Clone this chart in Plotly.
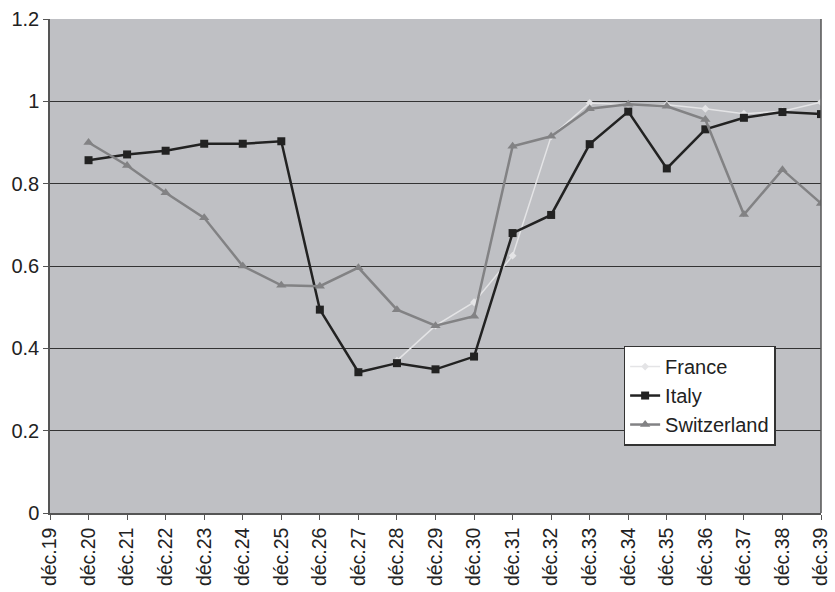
import plotly.graph_objects as go

# Category labels along the horizontal axis (one per December)
months = ["déc.%d" % y for y in range(19, 40)]
series_months = months[1:]  # observations start at déc.20

france = [None, None, None, None, None, None, None, None,
          0.37, 0.455, 0.512, 0.625, 0.915, 0.996, 0.992, 0.992,
          0.982, 0.970, 0.976, 0.998]
italy = [0.857, 0.871, 0.880, 0.897, 0.897, 0.903, 0.494, 0.342,
         0.364, 0.349, 0.380, 0.680, 0.724, 0.896, 0.975, 0.837,
         0.932, 0.960, 0.974, 0.969]
switzerland = [0.900, 0.844, 0.778, 0.717, 0.600, 0.553, 0.551, 0.596,
               0.494, 0.455, 0.478, 0.891, 0.915, 0.982, 0.993, 0.988,
               0.956, 0.725, 0.834, 0.752]

y_ticks = [0, 0.2, 0.4, 0.6, 0.8, 1, 1.2]
y_tick_text = ["0", "0.2", "0.4", "0.6", "0.8", "1", "1.2"]

fig = go.Figure()
fig.add_trace(go.Scatter(
    x=series_months, y=france, name="France", mode="lines+markers",
    line=dict(color="#e4e4e6", width=1.5),
    marker=dict(symbol="diamond", size=6, color="#e4e4e6"),
    connectgaps=False,
))
fig.add_trace(go.Scatter(
    x=series_months, y=italy, name="Italy", mode="lines+markers",
    line=dict(color="#222222", width=2.5),
    marker=dict(symbol="square", size=8, color="#222222"),
))
fig.add_trace(go.Scatter(
    x=series_months, y=switzerland, name="Switzerland", mode="lines+markers",
    line=dict(color="#828284", width=2.5),
    marker=dict(symbol="triangle-up", size=9, color="#828284"),
))

font_family = "Liberation Sans, Arial, sans-serif"

fig.update_layout(
    width=835, height=592,
    margin=dict(l=50, r=4, t=19, b=79),
    paper_bgcolor="white",
    plot_bgcolor="#bfc0c4",
    font=dict(family=font_family, size=20, color="#222222"),
    showlegend=True,
    legend=dict(
        x=0.744, y=0.339, xanchor="left", yanchor="top",
        bgcolor="white", bordercolor="#333333", borderwidth=1.5,
        font=dict(size=20, family=font_family, color="#222222"),
        tracegroupgap=0, itemwidth=30,
    ),
    xaxis=dict(
        type="category", categoryorder="array", categoryarray=months,
        range=[0, 20], tickmode="array", tickvals=months, ticktext=months,
        tickangle=-90, ticks="outside", ticklen=5, tickcolor="#555555",
        showline=True, linecolor="#555555", linewidth=1.5,
        showgrid=False, zeroline=False, mirror=False,
        tickfont=dict(size=19.5),
    ),
    yaxis=dict(
        range=[0, 1.2], tickmode="array", tickvals=y_ticks, ticktext=y_tick_text,
        ticks="outside", ticklen=5, tickcolor="#555555",
        showline=True, linecolor="#555555", linewidth=1.5,
        showgrid=True, gridcolor="#333333", gridwidth=1,
        zeroline=False, tickfont=dict(size=20),
    ),
)

# right-hand frame line of the plotting area
fig.add_shape(type="line", xref="paper", yref="paper", x0=1, x1=1, y0=0, y1=1,
              line=dict(color="#555555", width=1.5))

fig.write_html("out.html")
